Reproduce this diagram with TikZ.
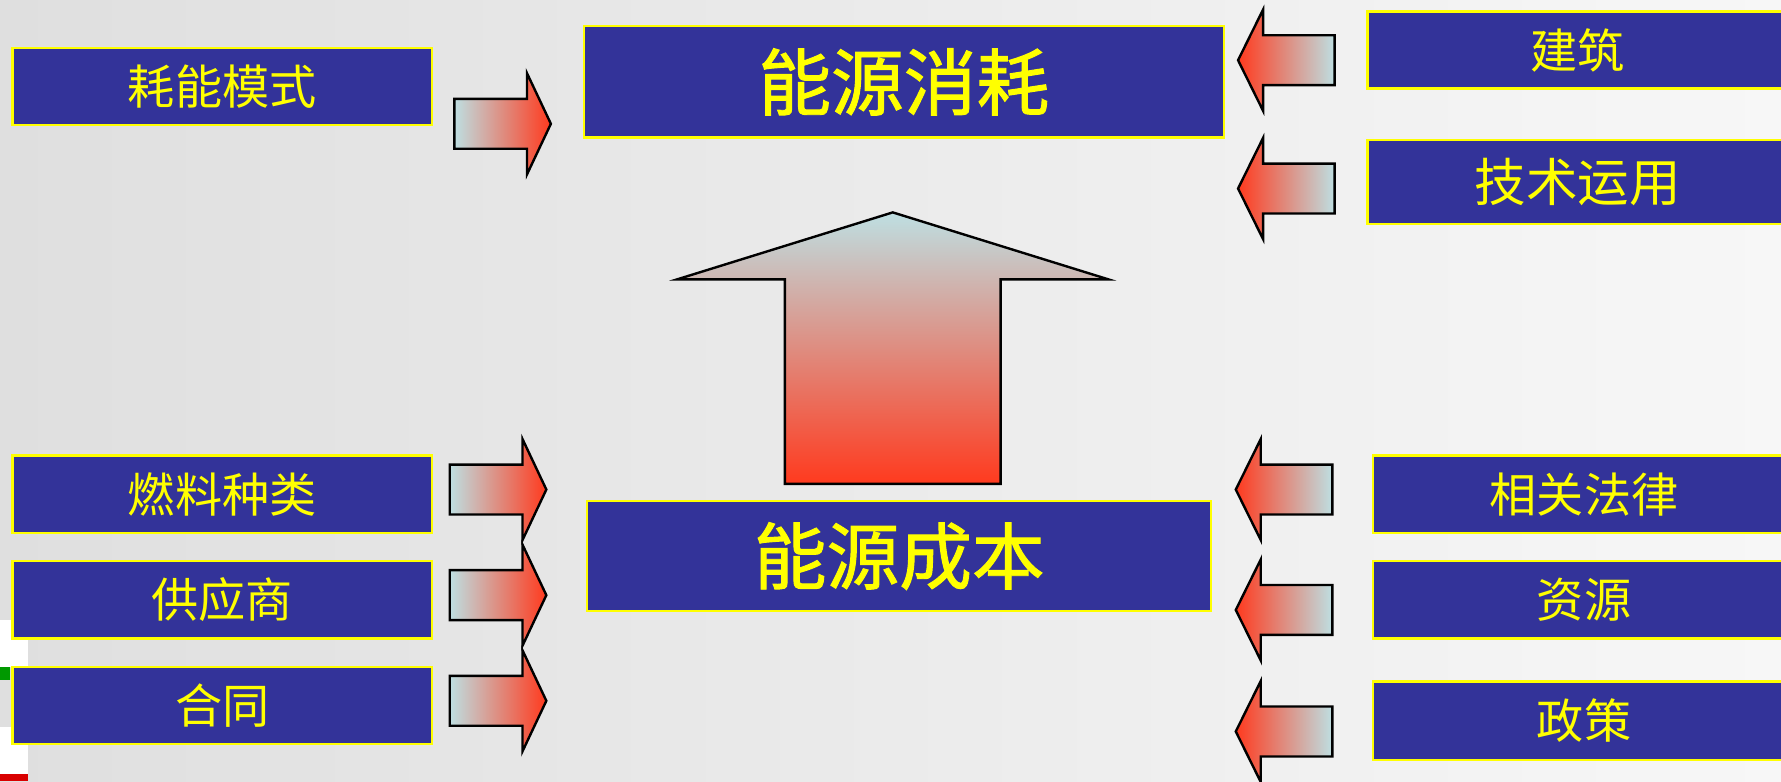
\documentclass[tikz,border=0pt]{standalone}
\usepackage{fontspec}
\usepackage{xcolor}
\usepackage{tikz}
\usetikzlibrary{positioning}
\newfontfamily\cjk{Noto Sans CJK SC}
\newfontfamily\cjkheavy[FakeBold=1.3]{Noto Sans CJK SC}
\definecolor{boxColor}{HTML}{333399}
\definecolor{edgeColor}{HTML}{FFFF00}
\definecolor{coolColor}{HTML}{BEDFE2}
\definecolor{midColor}{HTML}{D9B6B8}
\definecolor{bigMidColor}{HTML}{DCAFB0}
\definecolor{hotColor}{HTML}{FF3A1E}
\definecolor{bgLeft}{HTML}{DFDFDF}
\definecolor{bgRight}{HTML}{F7F7F7}

\begin{document}
\begin{tikzpicture}[x=0.01cm,y=-0.01cm,
  box/.style={fill=boxColor,draw=edgeColor,line width=0.6pt,text=edgeColor,inner sep=0pt,
    minimum width=3.69cm,minimum height=0.68cm,anchor=north west,
    font=\cjk\fontsize{11.8}{14}\selectfont},
  title/.style={box,minimum width=5.63cm,minimum height=0.98cm,font=\cjkheavy\fontsize{18.2}{22}\selectfont},
  toright/.style={draw=black,line width=0.6pt,left color=coolColor,middle color=midColor,right color=hotColor},
  toleft/.style={draw=black,line width=0.6pt,left color=hotColor,middle color=midColor,right color=coolColor}]
\useasboundingbox (0,0) rectangle (1568,688);
\clip (0,0) rectangle (1568,688);
\shade[left color=bgLeft,right color=bgRight] (0,0) rectangle (1568,688);
% bits at the left edge
\fill[white] (0,546) rectangle (25,587);
\fill[green!60!black] (0,587) rectangle (9,599);
\fill[white] (0,640) rectangle (25,681);
\fill[red!85!black] (0,681) rectangle (25,688);

% left column
\node[box] (mode) at (10,41) {耗能模式};
\node[box] (fuel) at (10,400) {燃料种类};
\node[box] (supplier) at (10,493) {供应商};
\node[box] (contract) at (10,586) {合同};

% centre
\node[title] (consume) at (513,22) {能源消耗};
\node[title,minimum width=5.49cm,minimum height=0.97cm] (cost) at (516,440) {能源成本};

% right column
\node[box,minimum width=3.70cm] (building) at (1203,9) {建筑};
\node[box,minimum width=3.70cm,minimum height=0.74cm,font=\cjk\fontsize{12.9}{15}\selectfont] (tech) at (1203,122) {技术运用};
\node[box,minimum width=3.71cm] (law) at (1208,400) {相关法律};
\node[box,minimum width=3.71cm] (resource) at (1208,493) {资源};
\node[box,minimum width=3.71cm,minimum height=0.69cm] (policy) at (1208,599) {政策};

% block arrows
\foreach \tx/\ty in {485/109,481/431,481/524,481/617}
  \path[toright] (\tx-85,\ty-22) -- (\tx-21,\ty-22) -- (\tx-21,\ty-44.5) -- (\tx,\ty)
    -- (\tx-21,\ty+44.5) -- (\tx-21,\ty+22) -- (\tx-85,\ty+22) -- cycle;
\foreach \tx/\ty in {1090/53,1090/166,1088/431,1088/537,1088/644}
  \path[toleft] (\tx,\ty) -- (\tx+22,\ty-44.5) -- (\tx+22,\ty-22) -- (\tx+85,\ty-22)
    -- (\tx+85,\ty+22) -- (\tx+22,\ty+22) -- (\tx+22,\ty+44.5) -- cycle;
\path[draw=black,line width=0.6pt,top color=coolColor,middle color=bigMidColor,bottom color=hotColor]
  (786,187) -- (976,246) -- (881,246) -- (881,426) -- (691,426) -- (691,246) -- (596,246) -- cycle;
\end{tikzpicture}
\end{document}
